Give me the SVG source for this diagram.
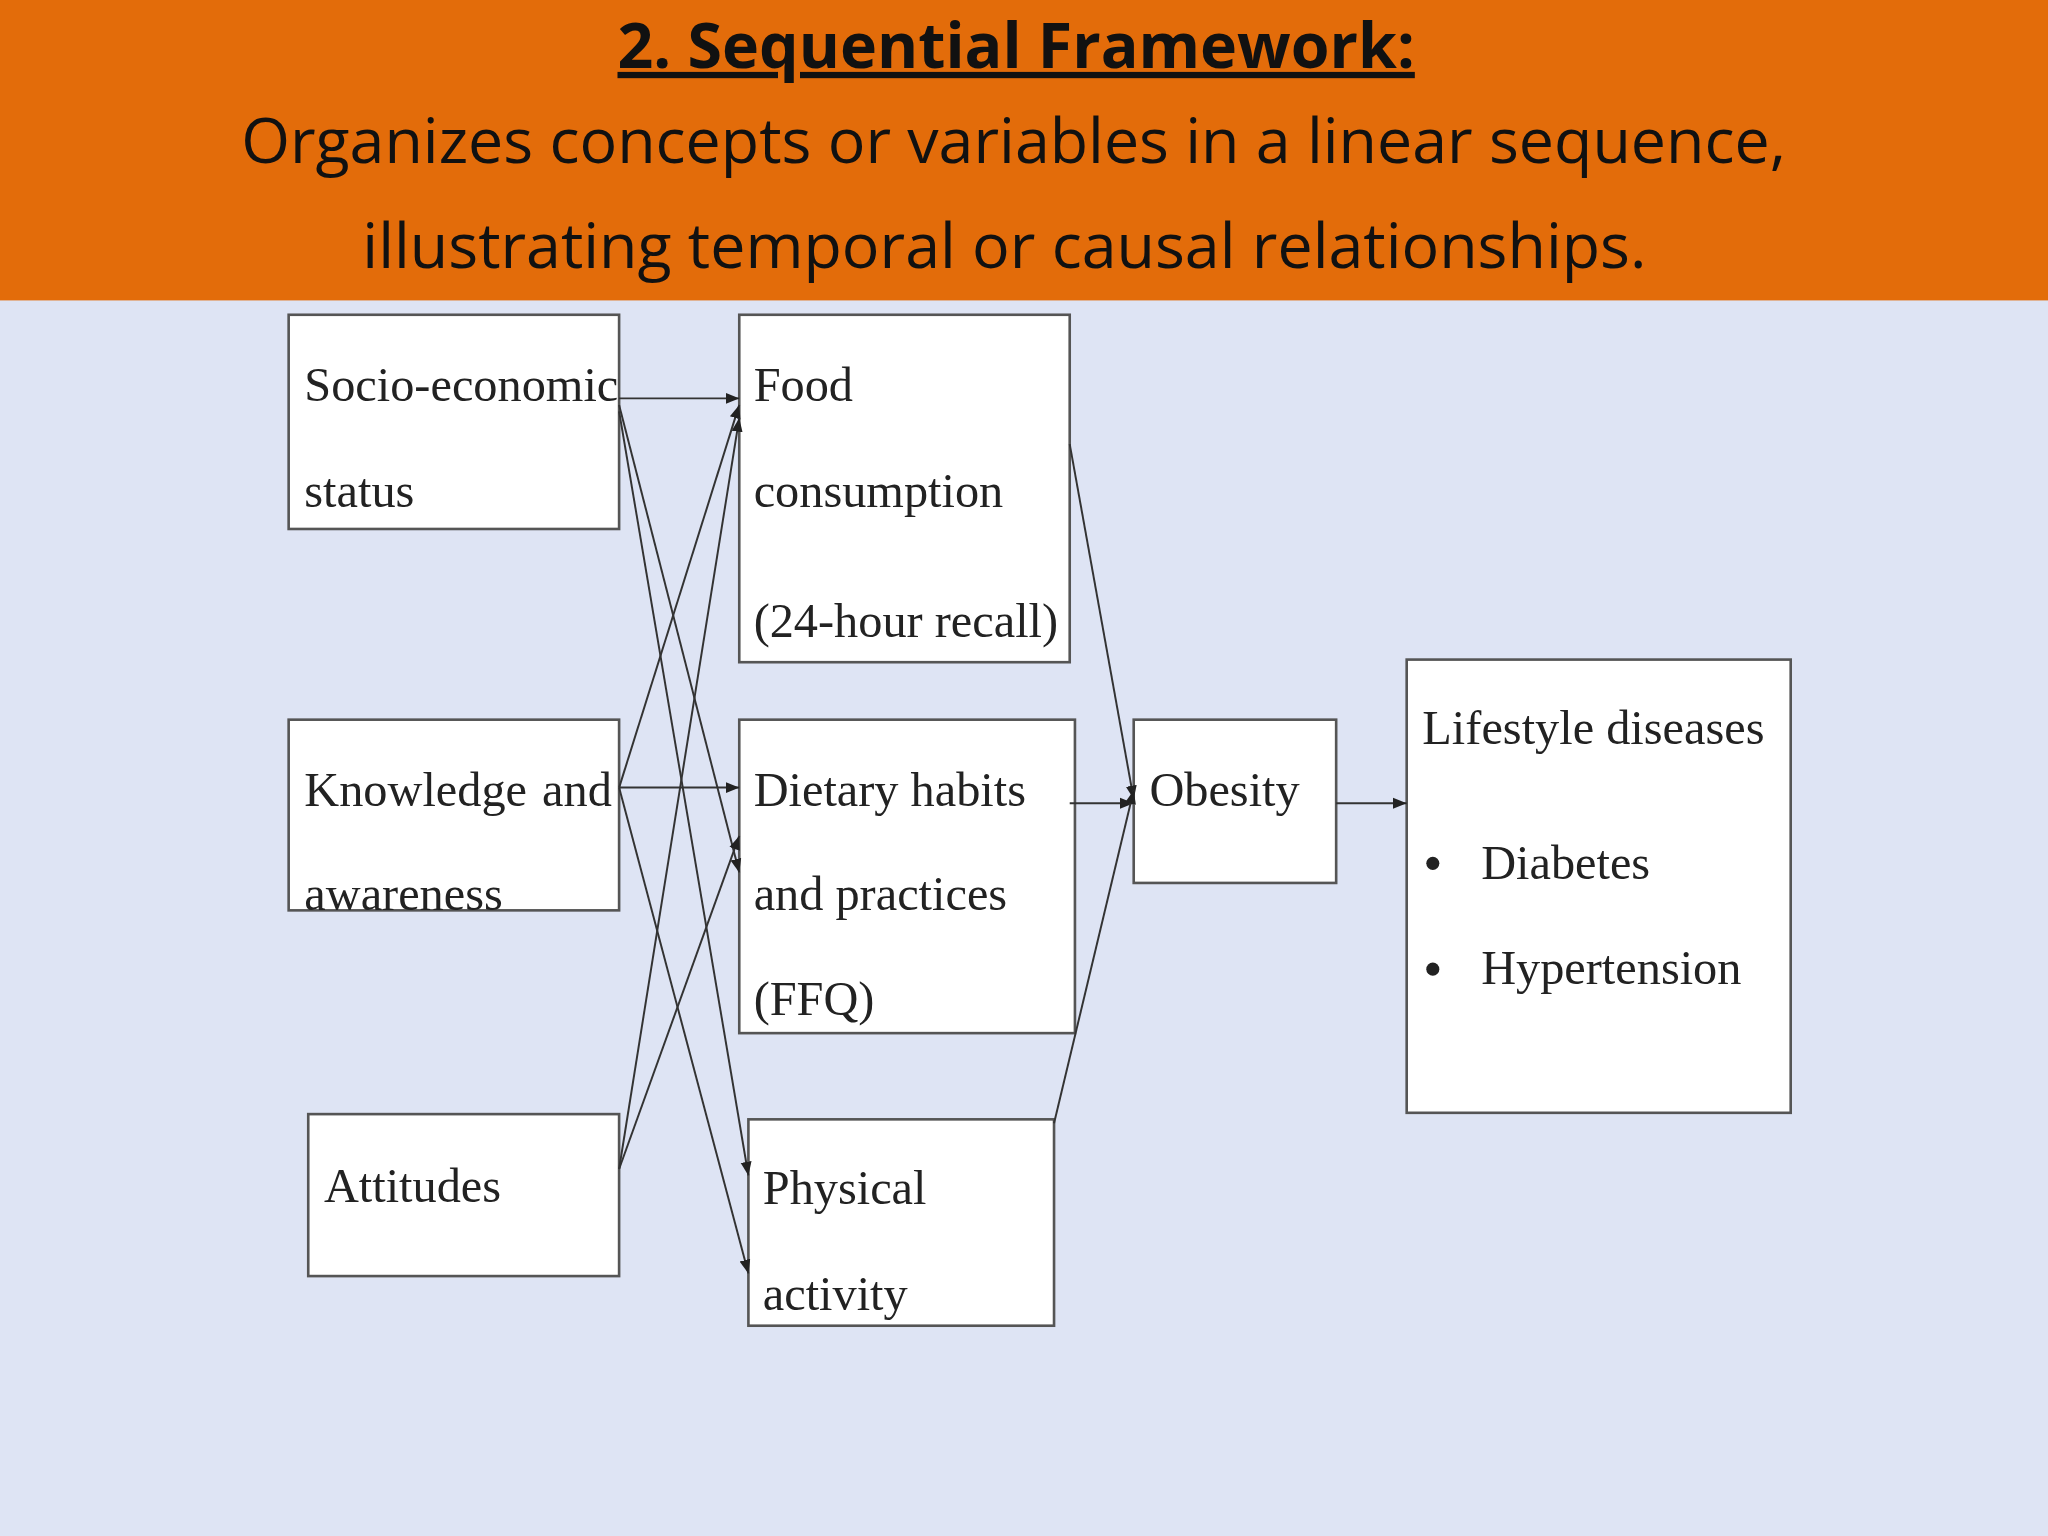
<svg xmlns="http://www.w3.org/2000/svg" width="2048" height="1536" viewBox="0 0 2048 1536">
<defs>
<style>
.b{fill:#fff;stroke:#555;stroke-width:2}
.t{font-family:"Liberation Serif",serif;font-size:37px;fill:#222}
.h{font-family:"Open Sans","Liberation Sans",sans-serif;font-size:48px;fill:#111;text-anchor:middle}
.c line{stroke:#333;stroke-width:1.5;marker-end:url(#a)}
</style>
<marker id="a" viewBox="0 0 10 10" refX="10" refY="5" markerWidth="7" markerHeight="7" orient="auto"><path d="M0,1 L10,5 L0,9 z" fill="#222"/></marker>
</defs>
<rect width="2048" height="1536" fill="#DEE4F4"/>
<g transform="scale(1.30612)">
<rect width="1568" height="230" fill="#E36C0A"/>
<text class="h" x="778" y="52" font-weight="bold" text-decoration="underline">2.  Sequential Framework:</text>
<text class="h" x="776" y="125">Organizes concepts or variables in a linear sequence,</text>
<text class="h" x="769" y="205">illustrating temporal or causal relationships.</text>
<g id="socio"><rect class="b" x="221" y="241" width="253" height="164"/><text class="t" x="233" y="307">Socio-economic</text><text class="t" x="233" y="388">status</text></g>
<g id="food"><rect class="b" x="566" y="241" width="253" height="266"/><text class="t" x="577" y="307">Food</text><text class="t" x="577" y="388">consumption</text><text class="t" x="577" y="488">(24-hour recall)</text></g>
<g id="knowledge"><rect class="b" x="221" y="551" width="253" height="146"/><text class="t" x="233" y="617">Knowledge</text><text class="t" x="415" y="617">and</text><text class="t" x="233" y="697">awareness</text></g>
<g id="dietary"><rect class="b" x="566" y="551" width="257" height="240"/><text class="t" x="577" y="617">Dietary habits</text><text class="t" x="577" y="697">and practices</text><text class="t" x="577" y="777">(FFQ)</text></g>
<g id="attitudes"><rect class="b" x="236" y="853" width="238" height="124"/><text class="t" x="248" y="920">Attitudes</text></g>
<g id="physical"><rect class="b" x="573" y="857" width="234" height="158"/><text class="t" x="584" y="922">Physical</text><text class="t" x="584" y="1003">activity</text></g>
<g id="obesity"><rect class="b" x="868" y="551" width="155" height="125"/><text class="t" x="880" y="617">Obesity</text></g>
<g id="lifestyle"><rect class="b" x="1077" y="505" width="294" height="347"/><text class="t" x="1089" y="570">Lifestyle diseases</text><circle cx="1097" cy="661" r="5" fill="#222"/><circle cx="1097" cy="742" r="5" fill="#222"/><text class="t" x="1134" y="673">Diabetes</text><text class="t" x="1134" y="753">Hypertension</text></g>
<g class="c" id="connectors">
<line x1="474" y1="305" x2="566" y2="305"/>
<line x1="474" y1="310" x2="566" y2="668"/>
<line x1="474" y1="315" x2="573" y2="900"/>
<line x1="474" y1="603" x2="566" y2="310"/>
<line x1="474" y1="603" x2="566" y2="603"/>
<line x1="474" y1="603" x2="573" y2="975"/>
<line x1="474" y1="895" x2="566" y2="320"/>
<line x1="474" y1="895" x2="566" y2="640"/>
<line x1="819" y1="340" x2="868" y2="612"/>
<line x1="819" y1="615" x2="868" y2="615"/>
<line x1="807" y1="860" x2="868" y2="605"/>
<line x1="1023" y1="615" x2="1077" y2="615"/>
</g>
</g>
</svg>
